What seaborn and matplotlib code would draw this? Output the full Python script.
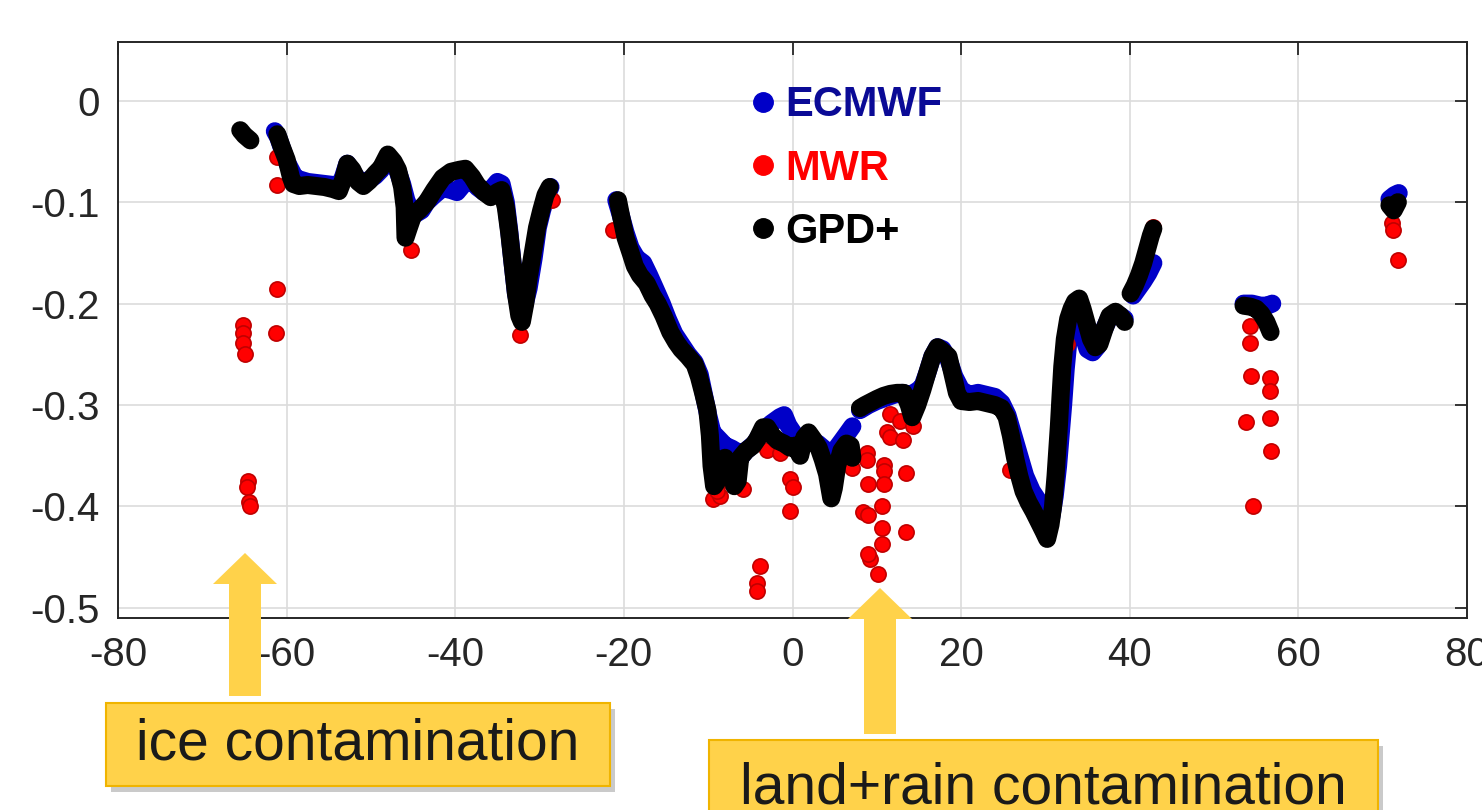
import matplotlib
matplotlib.use("Agg")
import matplotlib.pyplot as plt
from matplotlib.lines import Line2D
from matplotlib.patches import FancyArrow, Rectangle
import seaborn as sns
import pandas as pd
import numpy as np

# GPD+ (black) curve, segments of (latitude, value)
gpd_seg = [
    [(-65.5, -0.029), (-65.0, -0.034), (-64.3, -0.039)],
    [(-61.1, -0.033), (-60.6, -0.045), (-60.0, -0.058), (-59.5, -0.075), (-59.2, -0.082),
     (-58.5, -0.084), (-57.5, -0.083), (-56.5, -0.084), (-55.5, -0.085), (-54.5, -0.087),
     (-53.8, -0.089), (-53.3, -0.078), (-52.8, -0.062), (-52.2, -0.068), (-51.5, -0.080),
     (-50.9, -0.084), (-50.2, -0.079), (-49.5, -0.072), (-48.8, -0.066), (-48.0, -0.053),
     (-47.3, -0.060), (-46.8, -0.068), (-46.3, -0.085), (-46.0, -0.105), (-45.9, -0.135),
     (-45.5, -0.125), (-45.0, -0.113), (-44.3, -0.108), (-43.4, -0.100), (-42.5, -0.088),
     (-41.5, -0.076), (-40.5, -0.070), (-39.5, -0.068), (-38.8, -0.067), (-38.0, -0.075),
     (-37.4, -0.083), (-36.6, -0.090), (-35.8, -0.095), (-35.0, -0.090), (-34.5, -0.088),
     (-34.0, -0.105), (-33.6, -0.130), (-33.2, -0.160), (-32.8, -0.190), (-32.4, -0.212),
     (-32.1, -0.218), (-31.7, -0.200), (-31.3, -0.175), (-30.8, -0.150), (-30.3, -0.125),
     (-29.8, -0.108), (-29.3, -0.093), (-28.8, -0.085)],
    [(-20.7, -0.098), (-20.3, -0.115), (-19.8, -0.135), (-19.2, -0.150), (-18.7, -0.163),
     (-18.1, -0.172), (-17.3, -0.180), (-16.6, -0.192), (-16.0, -0.200), (-15.3, -0.212),
     (-14.5, -0.228), (-13.8, -0.238), (-13.2, -0.245), (-12.4, -0.252), (-11.6, -0.260),
     (-11.1, -0.272), (-10.6, -0.288), (-10.1, -0.305), (-9.8, -0.330), (-9.6, -0.360),
     (-9.3, -0.380), (-8.9, -0.375), (-8.6, -0.356), (-8.0, -0.352), (-7.4, -0.362),
     (-6.9, -0.380), (-6.5, -0.375), (-6.2, -0.352), (-5.5, -0.345), (-4.7, -0.340),
     (-4.2, -0.334), (-3.5, -0.322), (-3.0, -0.322), (-2.4, -0.330), (-1.8, -0.335),
     (-1.0, -0.338), (-0.3, -0.342), (0.3, -0.340), (0.9, -0.350), (1.4, -0.332),
     (1.9, -0.327), (2.5, -0.334), (3.1, -0.342), (3.6, -0.354), (4.1, -0.368),
     (4.6, -0.392), (4.9, -0.382), (5.3, -0.360), (5.8, -0.345), (6.4, -0.338),
     (6.9, -0.340), (7.1, -0.352)],
    [(8.0, -0.303), (8.6, -0.300), (9.3, -0.297), (10.0, -0.294), (10.8, -0.291),
     (11.6, -0.289), (12.4, -0.288), (13.2, -0.288), (13.8, -0.300), (14.2, -0.312),
     (14.8, -0.300), (15.4, -0.285), (16.0, -0.268), (16.6, -0.252), (17.2, -0.243),
     (17.8, -0.247), (18.5, -0.252), (19.0, -0.270), (19.5, -0.288), (20.0, -0.296),
     (21.0, -0.297), (22.0, -0.296), (23.0, -0.298), (24.0, -0.300), (24.8, -0.303),
     (25.4, -0.312), (25.9, -0.330), (26.4, -0.352), (26.9, -0.370), (27.4, -0.385),
     (28.0, -0.396), (28.6, -0.405), (29.2, -0.415), (29.8, -0.425), (30.2, -0.432),
     (30.6, -0.418), (30.9, -0.400), (31.2, -0.370), (31.4, -0.345), (31.6, -0.320),
     (31.8, -0.290), (32.0, -0.262), (32.3, -0.235), (32.7, -0.215), (33.1, -0.205),
     (33.5, -0.198), (34.0, -0.195), (34.4, -0.205), (34.9, -0.220), (35.4, -0.235),
     (35.9, -0.243), (36.4, -0.240), (37.0, -0.225), (37.6, -0.212), (38.3, -0.208),
     (38.9, -0.212), (39.4, -0.218)],
    [(40.1, -0.190), (40.6, -0.182), (41.1, -0.172), (41.6, -0.160), (42.1, -0.145),
     (42.5, -0.133), (42.8, -0.126)],
    [(53.5, -0.202), (54.3, -0.203), (55.0, -0.205), (55.6, -0.210), (56.2, -0.218),
     (56.7, -0.228)],
    [(70.8, -0.103), (71.3, -0.108), (71.8, -0.100)],
]

# ECMWF (blue) curve
ecmwf_seg = [
    [(-61.4, -0.030), (-61.0, -0.036), (-60.5, -0.048), (-60.0, -0.060), (-59.5, -0.068),
     (-59.0, -0.076), (-58.3, -0.078), (-57.5, -0.080), (-56.5, -0.081), (-55.5, -0.082),
     (-54.5, -0.083), (-53.8, -0.084), (-53.3, -0.075), (-52.8, -0.062), (-52.2, -0.070),
     (-51.5, -0.078), (-50.9, -0.080), (-50.2, -0.078), (-49.5, -0.074), (-48.8, -0.068),
     (-48.0, -0.055), (-47.3, -0.062), (-46.8, -0.070), (-46.3, -0.082), (-45.8, -0.098),
     (-45.3, -0.108), (-44.8, -0.112), (-44.0, -0.108), (-43.4, -0.100), (-42.5, -0.093),
     (-41.5, -0.086), (-40.5, -0.088), (-39.8, -0.090), (-39.0, -0.082), (-38.0, -0.078),
     (-37.4, -0.085), (-36.6, -0.090), (-35.8, -0.088), (-35.0, -0.080), (-34.5, -0.082),
     (-34.0, -0.100), (-33.6, -0.128), (-33.2, -0.160), (-32.8, -0.190), (-32.3, -0.210),
     (-31.9, -0.205), (-31.3, -0.185), (-30.7, -0.155), (-30.2, -0.125), (-29.7, -0.108),
     (-29.2, -0.094), (-28.7, -0.085)],
    [(-20.9, -0.098), (-20.4, -0.112), (-19.8, -0.130), (-19.2, -0.145), (-18.5, -0.155),
     (-17.7, -0.160), (-17.0, -0.172), (-16.3, -0.185), (-15.5, -0.200), (-14.8, -0.215),
     (-14.0, -0.230), (-13.2, -0.240), (-12.4, -0.250), (-11.6, -0.258), (-11.0, -0.270),
     (-10.5, -0.290), (-10.0, -0.310), (-9.5, -0.327), (-8.8, -0.333), (-8.0, -0.340),
     (-7.2, -0.343), (-6.6, -0.346), (-6.2, -0.352), (-5.5, -0.345), (-4.5, -0.338),
     (-3.5, -0.325), (-2.5, -0.318), (-1.5, -0.312), (-1.0, -0.310), (-0.5, -0.320),
     (0.3, -0.330), (1.0, -0.335), (2.0, -0.334), (3.0, -0.338), (4.0, -0.345),
     (4.5, -0.352), (5.0, -0.345), (5.8, -0.336), (6.5, -0.328), (7.1, -0.321)],
    [(8.0, -0.305), (9.0, -0.300), (10.0, -0.296), (11.0, -0.293), (12.0, -0.290),
     (13.0, -0.288), (14.0, -0.290), (14.8, -0.286), (15.4, -0.282), (16.0, -0.268),
     (16.6, -0.252), (17.2, -0.243), (17.8, -0.245), (18.5, -0.255), (19.2, -0.272),
     (20.0, -0.285), (21.0, -0.290), (22.0, -0.288), (23.0, -0.290), (24.0, -0.292),
     (24.8, -0.298), (25.5, -0.310), (26.2, -0.330), (26.9, -0.350), (27.6, -0.370),
     (28.4, -0.385), (29.2, -0.395), (29.8, -0.410), (30.2, -0.420), (30.7, -0.410),
     (31.1, -0.390), (31.5, -0.360), (31.8, -0.330), (32.1, -0.300), (32.4, -0.265),
     (32.8, -0.230), (33.2, -0.210), (33.6, -0.205), (34.1, -0.215), (34.5, -0.232),
     (35.0, -0.245), (35.6, -0.248), (36.2, -0.242), (36.8, -0.228), (37.5, -0.215),
     (38.2, -0.210), (38.9, -0.212), (39.4, -0.215)],
    [(40.4, -0.192), (41.0, -0.185), (41.6, -0.178), (42.2, -0.170), (42.8, -0.160)],
    [(53.5, -0.200), (54.5, -0.200), (55.5, -0.202), (56.3, -0.202), (56.9, -0.200)],
    [(70.8, -0.097), (71.4, -0.093), (71.9, -0.091)],
]

# MWR (red) points that stand out from the other two
mwr_lat = [-65.2, -65.2, -65.2, -64.9, -61.3, -61.1, -61.1, -61.2,
           -64.6, -64.7, -64.5, -64.3,
           -45.2, -32.3, -28.5, -21.3,
           -9.4, -8.9, -8.6, -9.0, -7.5, -5.9,
           -3.0, -1.5, -0.3, 0.1, -0.3,
           -3.8, -4.2, -4.2,
           7.1, 8.8, 8.8, 10.8, 10.8, 9.0, 10.8, 10.6, 8.4, 9.0, 10.6, 10.6, 9.2, 9.0, 10.2,
           11.6, 11.2, 11.6, 13.1, 12.8, 13.5, 13.5, 14.3,
           25.8, 32.1, 32.6, 33.4, 42.7,
           54.3, 54.3, 54.4, 53.8, 54.6, 56.6, 56.6, 56.6, 56.8,
           71.1, 71.2, 71.8]
mwr_val = [-0.221, -0.229, -0.239, -0.250, -0.229, -0.186, -0.083, -0.055,
           -0.375, -0.381, -0.396, -0.400,
           -0.147, -0.231, -0.098, -0.127,
           -0.393, -0.374, -0.390, -0.385, -0.375, -0.383,
           -0.344, -0.347, -0.373, -0.381, -0.404,
           -0.459, -0.475, -0.483,
           -0.362, -0.347, -0.354, -0.359, -0.365, -0.378, -0.378, -0.400, -0.405, -0.408,
           -0.421, -0.437, -0.452, -0.447, -0.467,
           -0.309, -0.327, -0.332, -0.334, -0.316, -0.367, -0.425, -0.321,
           -0.364, -0.255, -0.240, -0.200, -0.124,
           -0.222, -0.239, -0.271, -0.317, -0.400, -0.273, -0.286, -0.313, -0.345,
           -0.120, -0.127, -0.157]

labels = ["ECMWF", "MWR", "GPD+"]
colors = {"ECMWF": "#0000c8", "MWR": "#ff0000", "GPD+": "#000000"}
text_colors = ["#0a0a96", "#ff0000", "#000000"]

x_ticks = [-80, -60, -40, -20, 0, 20, 40, 60, 80]
y_ticks = [0, -0.1, -0.2, -0.3, -0.4, -0.5]
y_tick_labels = ["0", "-0.1", "-0.2", "-0.3", "-0.4", "-0.5"]


def to_frame(segments, name):
    rows = []
    for k, seg in enumerate(segments):
        for lat, val in seg:
            rows.append({"lat": lat, "val": val, "seg": k, "source": name})
    return pd.DataFrame(rows)


blue = to_frame(ecmwf_seg, "ECMWF")
black = to_frame(gpd_seg, "GPD+")
red = pd.DataFrame({"lat": mwr_lat, "val": mwr_val})

sns.set_theme(style="white")
plt.rcParams["font.family"] = ["Liberation Sans", "DejaVu Sans"]
plt.rcParams["axes.unicode_minus"] = False

fig = plt.figure(figsize=(14.82, 8.10), dpi=100)
ax = fig.add_axes([118 / 1482, 1 - 618 / 810, (1467 - 118) / 1482, (618 - 42) / 810])

line_kw = dict(x="lat", y="val", units="seg", estimator=None, sort=False,
               linewidth=13, legend=False, ax=ax,
               solid_capstyle="round", solid_joinstyle="round")
sns.lineplot(data=blue, color=colors["ECMWF"], **line_kw)
sns.scatterplot(data=red, x="lat", y="val", color=colors["MWR"], s=120,
                edgecolor="#c00000", linewidth=1.2, ax=ax, zorder=3)
sns.lineplot(data=black, color=colors["GPD+"], zorder=4, **line_kw)

ax.set_xlim(-80, 80)
ax.set_ylim(-0.51, 0.058)
ax.set_xticks(x_ticks)
ax.set_xticklabels([str(t) for t in x_ticks])
ax.set_yticks(y_ticks)
ax.set_yticklabels(y_tick_labels)
ax.set_xlabel("")
ax.set_ylabel("")
ax.grid(True, color="#dcdcdc", linewidth=1.2)
ax.set_axisbelow(True)
for sp in ax.spines.values():
    sp.set_color("#262626")
    sp.set_linewidth(1.4)
ax.tick_params(direction="in", length=9, width=1.3, top=True, right=True,
               colors="#262626", labelsize=29, pad=13)

handles = [Line2D([], [], marker="o", ls="", color=colors[n], markersize=14) for n in labels]
leg = ax.legend(handles, labels, loc="upper left", bbox_to_anchor=(0.464, 0.925),
                frameon=False, prop={"weight": "bold", "size": 30},
                handletextpad=0.1, labelspacing=0.56, handlelength=0.9,
                borderaxespad=0, borderpad=0)
for t, c in zip(leg.get_texts(), text_colors):
    t.set_color(c)

# annotation arrows and boxes (figure pixel positions)
W, H = 1482, 810
yellow = "#ffd24a"


def arrow(xc, y_base, y_tip):
    fig.add_artist(FancyArrow(xc / W, 1 - y_base / H, 0, (y_base - y_tip) / H,
                              width=32 / W, head_width=64 / W, head_length=31 / H,
                              length_includes_head=True, transform=fig.transFigure,
                              color=yellow, lw=0, zorder=5))


def box(x0, y0, x1, y1):
    fig.add_artist(Rectangle((x0 / W + 5 / W, 1 - y1 / H - 6 / H), (x1 - x0) / W, (y1 - y0) / H,
                             transform=fig.transFigure, facecolor="#a0a0a0", alpha=0.55,
                             lw=0, zorder=5))
    fig.add_artist(Rectangle((x0 / W, 1 - y1 / H), (x1 - x0) / W, (y1 - y0) / H,
                             transform=fig.transFigure, facecolor=yellow,
                             edgecolor="#f0b400", lw=1.5, zorder=6))


arrow(245, 696, 553)
arrow(880, 734, 588)
box(106, 703, 610, 786)
box(709, 740, 1378, 830)
fig.text(358 / W, 1 - 745 / H, "ice contamination", ha="center", va="center",
         fontsize=41, color="#1a1a1a", zorder=7)
fig.text(1043 / W, 1 - 803 / H, "land+rain contamination", ha="center", va="baseline",
         fontsize=41, color="#1a1a1a", zorder=7)

fig.savefig("out.png", dpi=100)
